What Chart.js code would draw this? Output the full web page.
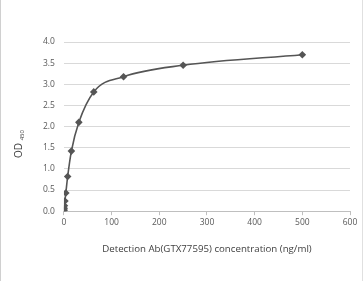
<!DOCTYPE html>
<html>
<head>
<meta charset="utf-8">
<script src="https://cdn.jsdelivr.net/npm/chart.js@4"></script>
<style>
  html, body { margin:0; padding:0; background:#fff; }
  #wrap { position:relative; width:363px; height:281px; box-sizing:border-box; border-left:1px solid #d0d0d0; border-right:1px solid #e0e0e0; }
</style>
</head>
<body>
<div id="wrap"><canvas id="odchart" width="361" height="281"></canvas></div>
<script>
// dilution series (ng/ml) and the OD450
let concValues = [0, 0.24, 0.49, 0.98, 1.95, 3.9, 7.8, 15.6, 31.25, 62.5, 125, 250, 500] ;
let odValues   = [0.01, 0.03, 0.07, 0.13, 0.24, 0.43, 0.82, 1.42, 2.1, 2.82, 3.18, 3.45, 3.7] ;
let xTitle = 'Detection Ab(GTX77595) concentration (ng/ml)' ;
let yTitleMain = 'OD' ;
let yTitleSub = '450' ;

let points = concValues.map((x,i)=>{
    return { x: x, y: odValues[i] };
}) ;

// y axis title with a real subscript, drawn a bit below the middle like the original
let yTitlePlugin = {
    id: 'yTitle',
    afterDraw: function (chart) {
        let c = chart.ctx ;
        c.save() ;
        c.translate(21, 158) ;
        c.rotate(-Math.PI/2) ;
        c.fillStyle = '#404040' ;
        c.textBaseline = 'alphabetic' ;
        c.font = '10px "Open Sans"' ;
        c.fillText(yTitleMain, 0, 0) ;
        let w = c.measureText(yTitleMain + ' ').width ;
        c.font = '6px "Open Sans"' ;
        c.fillText(yTitleSub, w, 2) ;
        c.restore() ;
    }
} ;

let ctx = document.getElementById('odchart').getContext('2d') ;
let od_chart = new Chart(ctx, {
    type: 'scatter',
    data: {
        datasets: [{
            data: points,
            showLine: true,
            borderColor: '#555555',
            borderWidth: 1.6,
            backgroundColor: '#555555',
            pointStyle: 'rectRot',
            pointRadius: 3.8,
            pointBorderWidth: 0,
            cubicInterpolationMode: 'monotone',
        }]
    },
    plugins: [yTitlePlugin],
    options: {
        responsive: false,
        animation: false,
        layout: { padding: { top: 42, right: 12, left: 33, bottom: 22 } },
        plugins: { legend: { display:false }, tooltip: { enabled:false } },
        scales: {
            x: {
                min: 0, max: 600,
                ticks: { stepSize: 100, color:'#595959', font:{ family:'Open Sans', size:8.5 }, padding: 2 },
                grid: { display: true, drawOnChartArea: false, tickLength: 4, color:'#bfbfbf' },
                border: { color:'#bfbfbf' },
                title: { display:true, text: xTitle, color:'#404040', font:{ family:'Open Sans', size:9.7 }, padding:{ top:14 } }
            },
            y: {
                min: 0, max: 4,
                ticks: { stepSize: 0.5, color:'#595959', font:{ family:'Open Sans', size:8.5 }, padding: 9,
                    callback: function (value) { return value.toFixed(1); } },
                grid: { color:'#d9d9d9', drawTicks:false },
                border: { display:false }
            }
        }
    }
}) ;
</script>
</body>
</html>
